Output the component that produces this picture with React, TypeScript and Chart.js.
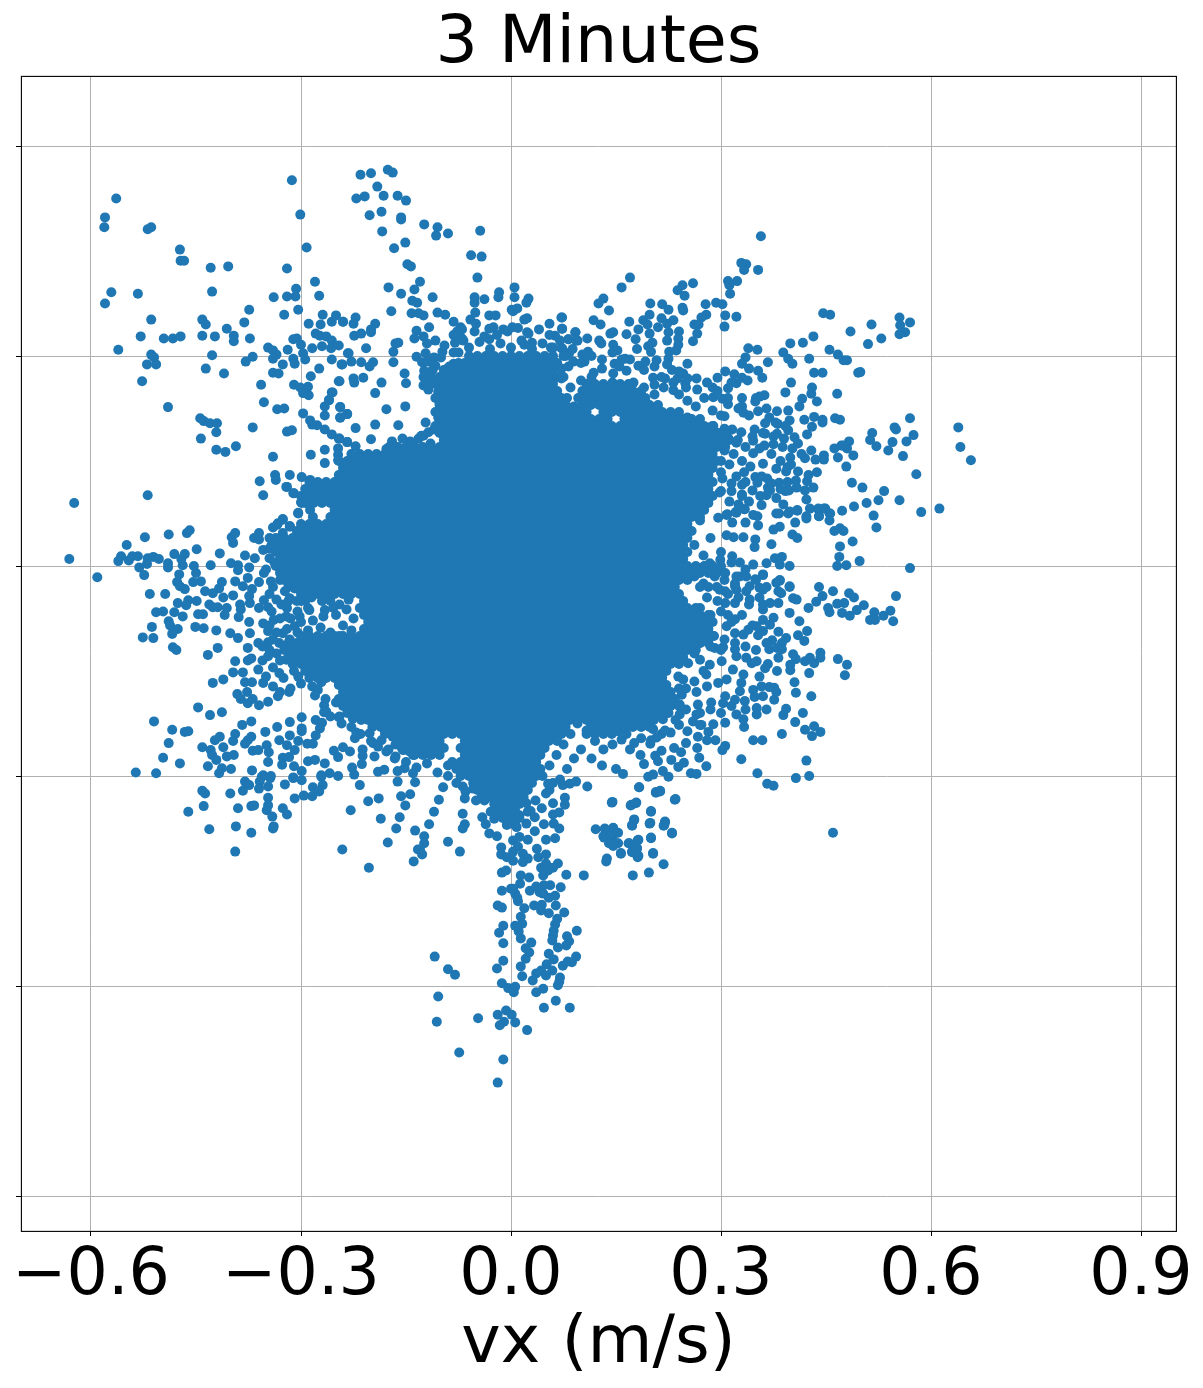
import React, { useEffect, useRef } from "react";
import { Chart, registerables } from "chart.js";

Chart.register(...registerables);

const titleText = "3 Minutes";
const xAxisLabel = "vx (m/s)";
const xTickValues = [-0.6, -0.3, 0, 0.3, 0.6, 0.9];
const yTickValues = [-0.9, -0.6, -0.3, 0, 0.3, 0.6];

// Scattered points: flat x,y pairs in mm/s.
const upperLeftPts = [-564,525,-580,498,-581,484,-519,481,-514,484,-473,452,-472,436,-467,436,-429,426,-404,428,-571,391,-580,375,-533,389,-427,392,-313,551,-301,502,-292,455,-320,425,-280,406,-307,396,-320,385,-308,385,-274,386,-339,384,-374,366,-304,366,-324,359,-514,352,-441,352,-436,345,-381,348,-406,339,-529,328,-496,325,-483,325,-472,328,-441,329,-423,328,-396,329,-396,321,-373,325,-561,309,-514,302,-510,298,-520,288,-507,288,-427,301,-527,264,-436,282,-410,275,-369,299,-379,292,-347,312,-340,308,-335,302,-340,296,-319,309,-311,324,-306,325,-300,316,-297,304,-294,295,-311,296,-309,289,-326,288,-340,276,-332,275,-274,282,-286,271,-357,259,-310,259,-301,255,-290,256,-297,247,-289,244,-353,234,-334,224,-324,225,-490,227,-444,211,-439,207,-430,204,-420,204,-421,191,-443,182,-369,198,-320,192,-313,194,-297,218,-287,208,-284,202,-277,201,-266,195,-256,188,-246,182,-234,177,-393,171,-421,166,-408,163,-266,166,-247,168,-269,359,-289,346,-272,345,-256,349,-250,358,-240,349,-279,332,-273,329,-264,328,-256,322,-270,314,-284,311,-257,311,-246,315,-256,295,-242,288,-233,304,-246,264,-256,248,-260,237,-266,228,-266,215,-244,227,-244,212,-234,217];

const upperMiddlePts = [-215,559,-200,561,-176,566,-169,562,-191,542,-221,525,-209,528,-182,529,-162,529,-150,522,-202,501,-185,506,-157,498,-157,495,-124,488,-105,484,-107,472,-90,475,-44,479,-184,478,-151,462,-167,454,-57,444,-42,442,-148,431,-143,428,-48,412,-130,406,-138,395,-175,398,-157,389,-112,384,-141,379,-134,376,5,398,-17,391,-18,384,5,384,25,382,22,376,-52,384,-38,381,-52,376,-171,364,-142,361,-132,361,-125,358,-105,362,-94,359,-51,362,-31,358,-22,358,1,366,3,364,9,368,-222,355,-225,346,-240,349,-194,346,-200,338,-200,334,-224,329,-214,332,-207,311,-232,304,-228,292,-214,291,-197,291,-202,285,-241,288,-168,291,-168,306,-165,318,-161,319,-135,336,-138,325,-125,328,-117,341,-108,322,-120,318,-122,304,-135,299,-98,306,-110,298,-82,349,-72,341,-77,335,-82,305,-80,319,-68,322,-58,352,-50,346,-127,291,-124,279,-108,286,-152,275,-150,261,-185,262,-211,269,-225,268,-224,262,-245,264,-194,247,-255,248,-260,237,-244,227,-234,217,-244,212,-178,224,-151,228,-222,197,-194,202,-161,201,-200,181,-245,182,-234,177,-222,171,-118,191,-125,186,-132,182,-144,178,-130,168,-161,169,-178,167,-122,261,-118,265,-110,262,-125,258,-118,252,-104,249,-102,232,-98,221,-104,212,-85,212,-97,201,-97,189,-80,252,-91,282,-82,289,-89,268,-82,268,-70,282,-75,275,-80,225,-82,237,55,346,72,355,73,339,63,329,23,334,19,352,23,354,92,334,82,324,93,322,57,312,30,319,19,316,73,311,83,304,55,298,2,341,-11,338,-25,341,-31,324,-31,339];

const upperRightPts = [357,471,329,433,336,431,333,423,353,423,310,407,323,407,312,401,313,389,260,404,245,401,238,394,248,386,170,412,158,398,132,382,125,375,140,365,199,375,216,374,225,366,198,359,245,369,246,365,278,374,293,376,302,374,306,358,322,356,305,342,279,359,272,355,262,345,268,345,266,332,260,321,232,351,215,354,223,346,189,351,169,349,118,351,128,345,73,355,73,339,92,334,95,322,82,324,109,325,126,322,129,318,142,332,146,334,165,331,178,324,182,338,195,345,198,332,210,341,225,334,240,335,223,322,239,325,239,316,202,319,196,314,200,306,146,316,152,308,110,306,102,302,82,304,72,311,105,292,89,292,226,306,236,308,225,296,163,296,158,295,148,289,130,282,118,276,146,275,165,279,182,286,192,292,208,294,223,288,252,289,246,275,238,268,249,261,250,255,220,268,203,269,205,259,232,251,266,252,339,311,352,309,389,305,399,318,417,319,432,328,446,361,456,359,485,335,455,309,467,302,475,294,480,294,426,296,396,296,402,289,367,291,335,298,330,289,340,282,353,279,359,269,433,276,445,276,496,276,430,255,400,262,392,248,466,246,429,246,437,235,416,239,412,228,306,278,295,269,319,274,330,269,338,265,322,261,310,254,288,255,289,241,302,239,310,231,330,228,362,244,349,235,355,242,353,221,332,219,305,214,380,221,396,222,369,212,363,204,381,203,398,208,419,209,433,213,445,209,445,205,463,211,470,209,430,199,423,188,348,195,363,189,380,189,396,194,405,184,390,182,410,175,375,174,362,172,346,179,329,191,316,195,305,196,289,200,429,165,462,168,472,172,483,178,480,168,467,155,489,158,447,158,447,152,435,152,420,154,399,155,479,142,437,134,487,119,423,121,407,122,393,135,379,139,395,141,383,119,366,125,349,127,352,119,367,112,365,101,330,116,330,102,333,134,346,161,360,146,300,134,282,134,300,107,315,107,392,107,397,108,379,97,358,87,389,88,422,95,473,79,490,85,447,82,427,82,409,79,396,75,379,75,352,71,333,81,322,76,309,74,296,69,439,81,455,75,440,71,422,71];

const farRightPts = [555,355,570,348,556,344,515,345,563,334,555,331,529,325,510,317,499,277,639,198,642,170,657,151,570,211,548,198,550,195,516,190,513,180,522,171,575,187,565,178,545,177,539,165,560,157,579,131,475,172,502,112,533,107,525,94,508,90,555,94,518,72,522,55,586,77,612,82,462,50,470,54,475,50,488,35,470,28,469,13,466,0,479,1,498,7,570,-3,550,-43,460,-36,440,-30,445,-43,483,-39,490,-45,439,82,449,82,456,75,440,71,455,65,422,68,406,62,409,80,398,78,383,75,353,58,335,62,316,62,334,81,321,77,308,73,346,73,375,52,384,56,402,45,409,40,372,31,348,27,332,41,318,41,308,44,349,38,387,13,377,11,365,4,398,0,384,2,346,2,327,5,316,14,327,-15,349,-19,360,-13,384,-20,398,-30,403,-46,382,-36,360,-34,341,-29,320,-29,306,-36,291,-15,299,9,284,4];

const lowerRightPts = [436,-51,425,-60,453,-60,455,-66,466,-54,476,-53,473,-67,484,-71,494,-63,504,-56,519,-66,513,-77,520,-77,532,-71,542,-64,546,-79,412,-79,382,-94,423,-93,410,-99,419,-107,393,-103,387,-110,373,-106,369,-119,380,-117,387,-119,382,-131,403,-126,407,-133,420,-136,427,-131,433,-139,442,-124,442,-131,467,-133,480,-141,477,-156,426,-153,399,-141,399,-149,380,-150,367,-140,363,-146,405,-166,407,-181,429,-186,376,-174,369,-173,379,-180,376,-191,393,-204,389,-213,417,-210,406,-223,433,-229,420,-234,442,-237,430,-243,387,-240,346,-249,359,-249,333,-230,306,-224,289,-226,329,-276,352,-296,366,-311,375,-314,407,-303,426,-300,422,-278,460,-381,306,-257,302,-263,292,-249,282,-237,267,-244,280,-249,270,-227,252,-236,240,-227,203,-233,193,-227,162,-230,153,-236,132,-218,130,-233,186,-246,176,-253,200,-249,199,-254,250,-253,266,-260,233,-260,243,-266,215,-264,206,-271,210,-279,229,-277,269,-274,247,-281,239,-287,279,-286,190,-283,217,-293,225,-301,257,-296,265,-297,160,-297,196,-301,203,-298,183,-316,207,-323,213,-321,235,-333,145,-337,172,-341,179,-338,200,-350,176,-363,173,-370,199,-367,220,-366,219,-370,230,-381,200,-388,203,-410,182,-391,180,-403,169,-396,173,-408,182,-414,157,-410,146,-374,135,-377,150,-381,132,-386,145,-386,153,-396,146,-400,137,-418,270,-134,284,-141,301,-136,317,-148,332,-155,344,-139,351,-136,336,-131,322,-129,320,-119,303,-116,291,-117,279,-155,296,-167,308,-162,329,-167,327,-179,346,-177,355,-158,358,-172,360,-186,348,-187,334,-193,320,-191,306,-186,303,-196,286,-195,267,-198,265,-212,260,-222,272,-227,244,-184,241,-198,241,-212,225,-210,217,-219,196,-215,182,-215,322,-212,332,-219,351,-203,351,-212,365,-205,246,-162,239,-158,253,-139,360,-62,370,-53,382,-53,384,-21,398,-29,408,-48,398,-67,375,-74,360,-77,370,-84,351,-86,339,-91,360,-93,353,-99,332,-98,320,-96,308,-86,320,-76,310,-70,306,-53,320,-53,341,-48,322,-15,336,-15,360,-12,322,-34,336,-36,355,-31,386,-39,379,-24,298,-34];

const leftPts = [-624,90,-519,101,-631,10,-591,-16,-523,41,-549,30,-489,45,-463,47,-459,51,-449,24,-416,18,-399,41,-394,47,-397,33,-367,40,-360,47,-360,38,-380,15,-359,121,-336,123,-354,101,-557,14,-561,7,-546,8,-541,14,-533,14,-519,11,-511,13,-503,10,-531,-2,-520,3,-490,4,-490,-2,-481,17,-466,17,-471,10,-469,1,-453,0,-450,-10,-524,-13,-474,-12,-477,-23,-473,-29,-466,-33,-454,-23,-443,-22,-516,-40,-494,-40,-437,-36,-413,-23,-417,-32,-426,-39,-411,-45,-397,-42,-394,-22,-429,1,-400,4,-390,1,-390,-6,-374,-2,-366,11,-353,-10,-376,-17,-360,-23,-343,-22,-327,-19,-383,-29,-370,-33,-374,-43,-353,-49,-476,-53,-461,-49,-464,-56,-449,-50,-431,-55,-426,-59,-419,-59,-406,-60,-387,-55,-386,-62,-373,-53,-507,-66,-497,-65,-481,-66,-469,-72,-447,-69,-440,-69,-409,-70,-389,-73,-360,-60,-347,-59,-374,-80,-354,-82,-339,-77,-489,-79,-487,-85,-476,-90,-484,-97,-513,-87,-526,-102,-511,-103,-451,-87,-439,-89,-421,-92,-401,-96,-390,-103,-373,-96,-347,-93,-483,-116,-478,-120,-433,-127,-419,-117,-376,-117,-361,-110,-347,-109,-394,-136,-397,-152,-383,-152,-376,-135,-371,-132,-361,-148,-347,-129,-426,-167,-411,-162,-380,-166,-370,-166,-391,-183,-377,-180,-386,-190,-376,-196,-369,-190,-360,-199,-347,-194,-333,-186,-317,-180,-354,-167,-340,-172,-350,-158,-326,67,-333,61,-340,55,-316,57,-304,75,-300,91,-310,104,-321,113,-345,40,-326,47,-354,23,-345,11,-331,28,-323,9,-311,-15,-309,-32,-323,-36,-335,-48,-316,-46,-302,-72,-321,-72,-309,-86,-326,-96,-331,-110,-316,-105,-335,-125,-321,-134,-304,-158,-331,-153,-288,-63,-266,-63,-254,-60,-288,-153,-271,-144,-284,-172,-271,-166,-276,-177,-267,-199,-267,-209,-247,159,-286,159,-266,147,-247,151,-340,156,-337,130,-316,130,-299,127,-287,123,-320,113,-311,104,-299,90,-304,76,-287,80,-326,66,-334,59,-316,56,-291,56,-283,70];

const lowerLeftPts = [-447,-202,-430,-213,-413,-209,-510,-222,-484,-234,-466,-237,-461,-236,-489,-253,-497,-274,-473,-282,-536,-295,-507,-296,-371,-222,-384,-227,-351,-237,-334,-230,-316,-223,-299,-216,-299,-232,-299,-236,-316,-242,-279,-220,-270,-224,-394,-240,-397,-250,-416,-244,-423,-249,-441,-259,-429,-263,-411,-259,-427,-270,-421,-277,-406,-272,-396,-270,-371,-244,-376,-249,-380,-254,-369,-264,-361,-263,-349,-256,-346,-266,-347,-280,-331,-249,-320,-256,-309,-263,-304,-250,-326,-274,-317,-273,-327,-284,-310,-286,-433,-286,-413,-289,-417,-296,-400,-290,-370,-292,-299,-293,-291,-254,-283,-254,-279,-242,-273,-232,-290,-279,-280,-277,-266,-282,-253,-264,-240,-259,-247,-273,-271,-299,-259,-296,-247,-300,-354,-299,-343,-300,-311,-302,-246,-216,-441,-321,-437,-325,-461,-351,-439,-343,-401,-325,-380,-308,-374,-313,-383,-321,-356,-301,-344,-303,-359,-308,-347,-315,-360,-318,-323,-312,-311,-303,-299,-306,-271,-301,-283,-316,-269,-313,-274,-322,-296,-328,-284,-329,-309,-332,-347,-331,-347,-342,-349,-349,-341,-358,-326,-346,-320,-355,-390,-346,-371,-343,-367,-342,-393,-372,-371,-381,-339,-372,-340,-375,-431,-376,-394,-408,-241,-405,-203,-431,-229,-349,-204,-336,-189,-332,-216,-313,-186,-361,-157,-329,-144,-326,-151,-342,-159,-359,-164,-375,-176,-395,-137,-378,-133,-405,-139,-422,-227,-288,-224,-298,-213,-283,-230,-265,-212,-262,-212,-271,-223,-246,-221,-238,-162,-308,-137,-309,-152,-289,-162,-293,-140,-296,-190,-294,-181,-291,-202,-239,-197,-253,-185,-249,-195,-272,-178,-265,-166,-275,-154,-263,-140,-270,-169,-244,-150,-244,-226,-218,-245,-215,-214,-220,-264,-208,-271,-225];

const bottomPts = [-103,-334,-97,-316,-110,-351,-117,-369,-124,-386,-124,-396,-130,-405,-127,-412,-90,-394,-73,-408,-69,-354,-66,-369,-69,-375,-66,-332,-41,-359,-36,-369,-31,-382,-20,-386,-29,-351,-24,-361,-11,-354,-14,-402,-14,-412,-6,-416,3,-421,-13,-438,-7,-435,-13,-464,0,-461,6,-468,10,-479,14,-442,26,-445,13,-454,27,-464,-19,-485,-13,-488,-11,-514,-17,-524,-11,-539,-11,-564,-20,-575,-13,-596,-4,-603,6,-601,4,-609,16,-586,14,-572,21,-561,26,-552,21,-546,29,-538,14,-532,11,-522,6,-514,16,-511,14,-501,19,-489,33,-485,44,-484,43,-492,54,-496,64,-485,76,-495,66,-504,63,-512,61,-521,60,-528,59,-535,67,-545,80,-529,83,-536,79,-542,94,-521,54,-554,61,-562,51,-569,74,-571,81,-565,93,-558,87,-566,59,-578,43,-578,36,-582,31,-592,50,-585,70,-588,69,-594,67,-599,46,-604,36,-609,-109,-558,-90,-576,-80,-584,-104,-615,-106,-651,-47,-646,-19,-641,-7,-635,1,-641,-10,-651,-16,-656,6,-652,23,-663,47,-631,64,-621,84,-631,-74,-695,-11,-705,-19,-738,104,-442,79,-441,71,-459,56,-456,46,-442,43,-431,39,-416,50,-412,67,-425,60,-431,50,-425,53,-435,47,-456,36,-458,41,-466,63,-471,54,-474,46,-468,9,-474,3,-461,109,-315,144,-338,183,-316,207,-324,213,-322,234,-334,171,-342,178,-339,200,-351,173,-371,176,-362,198,-368,220,-365,218,-371,230,-382,200,-389,203,-411,218,-426,197,-438,174,-442,136,-422,121,-376,134,-375,146,-375,153,-381,133,-388,140,-396,151,-396,157,-411,168,-396,181,-392,173,-409,181,-416,180,-404,44,-346,60,-339,77,-331,77,-341,60,-355,69,-352,47,-369,61,-368,69,-375,63,-389,50,-391,34,-359,34,-379,37,-404,24,-391,3,-392,10,-401,17,-411,24,-418,17,-423,3,-408,12,-387,8,-373,22,-368,-2,-368,-7,-339,5,-339,22,-339,12,-356,5,-354,24,-351,-16,-330,-40,-325,-30,-327,-54,-318,-69,-315,-38,-335,55,-320,53,-311,74,-313,84,-311,93,-308];

// Estimated lumps round the solid core, where the marks overlap too much to separate.
const fringeUpperRightPts = [240,245,252,236,264,228,276,240,288,222,300,215,252,212,268,205,282,198,296,190,310,183,322,176,335,170,318,160,330,150,342,142,305,165,312,145,300,150,322,128,335,120,345,108,330,100,315,118,302,125,298,105,312,92,325,88,340,92,356,100,370,108,358,128,372,118,385,110,395,120,408,112,420,108,432,112,410,135,425,130,400,145,385,150,372,160,355,168,345,185,360,190,375,185,388,170,402,168,415,160,378,205,392,200,340,215,325,225,310,240,295,250,280,262,265,268,350,240,365,225,330,240,315,262,270,65,285,40,262,30,275,15,300,20,315,5];
const fringeTopPts = [75,300,88,310,100,290,115,300,130,295,145,305,155,285,170,295,180,310,190,280,205,285,215,270,230,280,100,265,85,255,75,270,72,282,115,270,128,255,145,262,160,250,175,262,190,255,205,245,218,255,232,262,240,278,252,268,80,240,90,228,-60,312,-45,320,-30,310,-15,318,0,312,15,322,30,310,45,318,60,312,-70,325,-52,335,-38,328,-20,330,-5,335,10,340,25,332,40,338,55,330,70,322,-75,305,78,300,82,285,72,268,-75,290,-88,285,-100,298,-118,292,-112,280,-95,315,-82,330,-70,338,-125,270,-170,178,-155,182,-140,176,-128,186,-115,175,-110,195,-122,205];
const fringeLeftPts = [-300,-50,-285,-45,-245,-55,-232,-48,-320,-60,-305,-65,-290,-60,-250,-70,-235,-62,-225,-75,-315,-75,-300,-80,-283,-78,-268,-72,-240,-85,-228,-92,-320,-90,-305,-95,-290,-92,-272,-88,-258,-95,-245,-100,-345,25,-338,5,-350,-5,-340,-30,-330,-20,-345,-40,-328,-55,-342,-65,-330,-75,-345,-85,-335,-95,-318,-110,-340,-105,-355,-115,-345,-120,-330,-135,-315,-125,-355,-135,-340,-145,-325,-160,-310,-150,-300,-168,-315,-175,-330,-180];
const fringeBottomPts = [-280,-185,-265,-190,-250,-195,-258,-215,-242,-225,-228,-230,-215,-240,-200,-250,-190,-258,-175,-262,-165,-272,-150,-280,-135,-288,-120,-282,-105,-295,-118,-268,-90,-300,-78,-310,-65,-322,-50,-335,-90,-285,-180,-235,-165,-255,-145,-265,45,-300,55,-285,65,-270,75,-255,85,-240,60,-310,50,-325,35,-335,28,-350,95,-225,108,-235,120,-250,132,-262,145,-255,158,-248,170,-262,185,-270,100,-262,115,-275,130,-285,150,-290,165,-240,215,-240,228,-238,90,-275,80,-290,70,-305];
const fringeLowerRightPts = [262,-15,275,-25,290,-8,305,-20,320,-25,335,-5,350,-20,365,-30,280,-45,295,-50,310,-40,325,-45,340,-55,355,-45,270,-60,285,-70,300,-65,315,-80,330,-70,345,-85,360,-55,275,-90,290,-100,305,-105,320,-110,335,-115,350,-120,365,-110,300,-120,285,-115,270,-110,262,-125,275,-150,262,-165,250,-175,265,-180,280,-172,240,-175,250,-205,270,-210,285,-205,300,-210,315,-200,335,-205,235,-220,220,-235,208,-245];

// The solid core cannot be read point by point: estimated rows of overlapping points, mm/s.
const coreYs = [300,290,280,270,260,250,240,230,220,210,200,190,180,170,160,150,140,130,120,110,100,90,80,70,60,50,40,30,20,10,0,-10,-20,-30,-40,-50,-60,-70,-80,-90,-100,-110,-120,-130,-140,-150,-160,-170,-180,-190,-200,-210,-220,-230,-240,-250,-260,-270,-280,-290,-300,-310,-320,-330,-340,-350,-360,-370];
const coreXs = [
[-60,-48,-36,-24,-12,0,12,24,36,48,60],
[-66,-54,-42,-30,-18,-6,6,18,30,42,54,66],
[-96,-84,-72,-60,-48,-36,-24,-12,0,12,24,36,48,60],
[-114,-102,-90,-78,-66,-54,-42,-30,-18,-6,6,18,30,42,54,66],
[-108,-96,-84,-72,-60,-48,-36,-24,-12,0,12,24,36,48,60,108,120,132,144,156,168],
[-102,-90,-78,-66,-54,-42,-30,-18,-6,6,18,30,42,54,66,102,114,126,138,150,162,174,186],
[-108,-96,-84,-72,-60,-48,-36,-24,-12,0,12,24,36,48,60,72,96,108,120,132,144,156,168,180,192],
[-102,-90,-78,-66,-54,-42,-30,-18,-6,6,18,30,42,54,66,78,102,114,126,138,150,162,174,186,198,210],
[-108,-96,-84,-72,-60,-48,-36,-24,-12,0,12,24,36,48,60,72,84,96,108,132,144,156,168,180,192,204,216,228,240],
[-102,-90,-78,-66,-54,-42,-30,-18,-6,6,18,30,42,54,66,78,90,102,114,126,138,162,174,186,198,210,222,234,246,258,270],
[-108,-96,-84,-72,-60,-48,-36,-24,-12,0,12,24,36,48,60,72,84,96,108,120,132,144,156,168,180,192,204,216,228,240,252,264,276,288],
[-102,-90,-78,-66,-54,-42,-30,-18,-6,6,18,30,42,54,66,78,90,102,114,126,138,150,162,174,186,198,210,222,234,246,258,270,282,294,306],
[-96,-84,-72,-60,-48,-36,-24,-12,0,12,24,36,48,60,72,84,96,108,120,132,144,156,168,180,192,204,216,228,240,252,264,276,288,300,312,324],
[-174,-162,-150,-138,-126,-114,-102,-90,-78,-66,-54,-42,-30,-18,-6,6,18,30,42,54,66,78,90,102,114,126,138,150,162,174,186,198,210,222,234,246,258,270,282,294,306],
[-228,-216,-204,-192,-180,-168,-156,-144,-132,-120,-108,-96,-84,-72,-60,-48,-36,-24,-12,0,12,24,36,48,60,72,84,96,108,120,132,144,156,168,180,192,204,216,228,240,252,264,276,288],
[-246,-234,-222,-210,-198,-186,-174,-162,-150,-138,-126,-114,-102,-90,-78,-66,-54,-42,-30,-18,-6,6,18,30,42,54,66,78,90,102,114,126,138,150,162,174,186,198,210,222,234,246,258,270,282,294],
[-240,-228,-216,-204,-192,-180,-168,-156,-144,-132,-120,-108,-96,-84,-72,-60,-48,-36,-24,-12,0,12,24,36,48,60,72,84,96,108,120,132,144,156,168,180,192,204,216,228,240,252,264,276,288],
[-246,-234,-222,-210,-198,-186,-174,-162,-150,-138,-126,-114,-102,-90,-78,-66,-54,-42,-30,-18,-6,6,18,30,42,54,66,78,90,102,114,126,138,150,162,174,186,198,210,222,234,246,258,270,282],
[-288,-276,-264,-252,-240,-228,-216,-204,-192,-180,-168,-156,-144,-132,-120,-108,-96,-84,-72,-60,-48,-36,-24,-12,0,12,24,36,48,60,72,84,96,108,120,132,144,156,168,180,192,204,216,228,240,252,264,276,288],
[-294,-282,-270,-258,-246,-234,-222,-210,-198,-186,-174,-162,-150,-138,-126,-114,-102,-90,-78,-66,-54,-42,-30,-18,-6,6,18,30,42,54,66,78,90,102,114,126,138,150,162,174,186,198,210,222,234,246,258,270,282],
[-300,-288,-276,-264,-252,-240,-228,-216,-204,-192,-180,-168,-156,-144,-132,-120,-108,-96,-84,-72,-60,-48,-36,-24,-12,0,12,24,36,48,60,72,84,96,108,120,132,144,156,168,180,192,204,216,228,240,252,264,276,288],
[-294,-282,-270,-258,-246,-234,-222,-210,-198,-186,-174,-162,-150,-138,-126,-114,-102,-90,-78,-66,-54,-42,-30,-18,-6,6,18,30,42,54,66,78,90,102,114,126,138,150,162,174,186,198,210,222,234,246,258,270,282],
[-252,-240,-228,-216,-204,-192,-180,-168,-156,-144,-132,-120,-108,-96,-84,-72,-60,-48,-36,-24,-12,0,12,24,36,48,60,72,84,96,108,120,132,144,156,168,180,192,204,216,228,240,252,264,276],
[-258,-246,-234,-222,-210,-198,-186,-174,-162,-150,-138,-126,-114,-102,-90,-78,-66,-54,-42,-30,-18,-6,6,18,30,42,54,66,78,90,102,114,126,138,150,162,174,186,198,210,222,234,246,258,270],
[-300,-288,-276,-264,-252,-240,-228,-216,-204,-192,-180,-168,-156,-144,-132,-120,-108,-96,-84,-72,-60,-48,-36,-24,-12,0,12,24,36,48,60,72,84,96,108,120,132,144,156,168,180,192,204,216,228,240,252],
[-306,-294,-282,-270,-258,-246,-234,-222,-210,-198,-186,-174,-162,-150,-138,-126,-114,-102,-90,-78,-66,-54,-42,-30,-18,-6,6,18,30,42,54,66,78,90,102,114,126,138,150,162,174,186,198,210,222,234,246,258],
[-336,-324,-312,-300,-288,-276,-264,-252,-240,-228,-216,-204,-192,-180,-168,-156,-144,-132,-120,-108,-96,-84,-72,-60,-48,-36,-24,-12,0,12,24,36,48,60,72,84,96,108,120,132,144,156,168,180,192,204,216,228,240,252],
[-342,-330,-318,-306,-294,-282,-270,-258,-246,-234,-222,-210,-198,-186,-174,-162,-150,-138,-126,-114,-102,-90,-78,-66,-54,-42,-30,-18,-6,6,18,30,42,54,66,78,90,102,114,126,138,150,162,174,186,198,210,222,234,246],
[-336,-324,-312,-300,-288,-276,-264,-252,-240,-228,-216,-204,-192,-180,-168,-156,-144,-132,-120,-108,-96,-84,-72,-60,-48,-36,-24,-12,0,12,24,36,48,60,72,84,96,108,120,132,144,156,168,180,192,204,216,228,240,252],
[-330,-318,-306,-294,-282,-270,-258,-246,-234,-222,-210,-198,-186,-174,-162,-150,-138,-126,-114,-102,-90,-78,-66,-54,-42,-30,-18,-6,6,18,30,42,54,66,78,90,102,114,126,138,150,162,174,186,198,210,222,234,246],
[-336,-324,-312,-300,-288,-276,-264,-252,-240,-228,-216,-204,-192,-180,-168,-156,-144,-132,-120,-108,-96,-84,-72,-60,-48,-36,-24,-12,0,12,24,36,48,60,72,84,96,108,120,132,144,156,168,180,192,204,216,228,240,252,264,276,288,300],
[-330,-318,-306,-294,-282,-270,-258,-246,-234,-222,-210,-198,-186,-174,-162,-150,-138,-126,-114,-102,-90,-78,-66,-54,-42,-30,-18,-6,6,18,30,42,54,66,78,90,102,114,126,138,150,162,174,186,198,210,222,234,246,258,270,282,294,306],
[-324,-312,-300,-288,-276,-264,-252,-240,-228,-216,-204,-192,-180,-168,-156,-144,-132,-120,-108,-96,-84,-72,-60,-48,-36,-24,-12,0,12,24,36,48,60,72,84,96,108,120,132,144,156,168,180,192,204,216,228,240,252],
[-318,-306,-294,-282,-270,-258,-246,-234,-222,-210,-198,-186,-174,-162,-150,-138,-126,-114,-102,-90,-78,-66,-54,-42,-30,-18,-6,6,18,30,42,54,66,78,90,102,114,126,138,150,162,174,186,198,210,222,234,270,282,294],
[-300,-288,-276,-264,-252,-240,-228,-216,-204,-192,-180,-168,-156,-144,-132,-120,-108,-96,-84,-72,-60,-48,-36,-24,-12,0,12,24,36,48,60,72,84,96,108,120,132,144,156,168,180,192,204,216,228,240],
[-318,-306,-294,-270,-258,-210,-198,-186,-174,-162,-150,-138,-126,-114,-102,-90,-78,-66,-54,-42,-30,-18,-6,6,18,30,42,54,66,78,90,102,114,126,138,150,162,174,186,198,210,222,234,246],
[-216,-204,-192,-180,-168,-156,-144,-132,-120,-108,-96,-84,-72,-60,-48,-36,-24,-12,0,12,24,36,48,60,72,84,96,108,120,132,144,156,168,180,192,204,216,228,240,252,264],
[-210,-198,-186,-174,-162,-150,-138,-126,-114,-102,-90,-78,-66,-54,-42,-30,-18,-6,6,18,30,42,54,66,78,90,102,114,126,138,150,162,174,186,198,210,222,234,246,258,270,282],
[-204,-192,-180,-168,-156,-144,-132,-120,-108,-96,-84,-72,-60,-48,-36,-24,-12,0,12,24,36,48,60,72,84,96,108,120,132,144,156,168,180,192,204,216,228,240,252,264,276,288],
[-210,-198,-186,-174,-162,-150,-138,-126,-114,-102,-90,-78,-66,-54,-42,-30,-18,-6,6,18,30,42,54,66,78,90,102,114,126,138,150,162,174,186,198,210,222,234,246,258,270,282],
[-300,-288,-276,-264,-252,-240,-228,-216,-204,-192,-180,-168,-156,-144,-132,-120,-108,-96,-84,-72,-60,-48,-36,-24,-12,0,12,24,36,48,60,72,84,96,108,120,132,144,156,168,180,192,204,216,228,240,252,264,276,288],
[-306,-294,-282,-270,-258,-246,-234,-222,-210,-198,-186,-174,-162,-150,-138,-126,-114,-102,-90,-78,-66,-54,-42,-30,-18,-6,6,18,30,42,54,66,78,90,102,114,126,138,150,162,174,186,198,210,222,234,246,258,270,282],
[-324,-312,-300,-288,-276,-264,-252,-240,-228,-216,-204,-192,-180,-168,-156,-144,-132,-120,-108,-96,-84,-72,-60,-48,-36,-24,-12,0,12,24,36,48,60,72,84,96,108,120,132,144,156,168,180,192,204,216,228,240,252,264],
[-318,-306,-294,-282,-270,-258,-246,-234,-222,-210,-198,-186,-174,-162,-150,-138,-126,-114,-102,-90,-78,-66,-54,-42,-30,-18,-6,6,18,30,42,54,66,78,90,102,114,126,138,150,162,174,186,198,210,222,234,246],
[-312,-300,-288,-276,-264,-252,-240,-228,-216,-204,-192,-180,-168,-156,-144,-132,-120,-108,-96,-84,-72,-60,-48,-36,-24,-12,0,12,24,36,48,60,72,84,96,108,120,132,144,156,168,180,192,204,216,228,240],
[-294,-282,-270,-258,-246,-234,-222,-210,-198,-186,-174,-162,-150,-138,-126,-114,-102,-90,-78,-66,-54,-42,-30,-18,-6,6,18,30,42,54,66,78,90,102,114,126,138,150,162,174,186,198,210,222],
[-288,-276,-264,-252,-240,-228,-216,-204,-192,-180,-168,-156,-144,-132,-120,-108,-96,-84,-72,-60,-48,-36,-24,-12,0,12,24,36,48,60,72,84,96,108,120,132,144,156,168,180,192,204,216],
[-246,-234,-222,-210,-198,-186,-174,-162,-150,-138,-126,-114,-102,-90,-78,-66,-54,-42,-30,-18,-6,6,18,30,42,54,66,78,90,102,114,126,138,150,162,174,186,198,210,222],
[-240,-228,-216,-204,-192,-180,-168,-156,-144,-132,-120,-108,-96,-84,-72,-60,-48,-36,-24,-12,0,12,24,36,48,60,72,84,96,108,120,132,144,156,168,180,192,204,216,228],
[-246,-234,-222,-210,-198,-186,-174,-162,-150,-138,-126,-114,-102,-90,-78,-66,-54,-42,-30,-18,-6,6,18,30,42,54,66,78,90,102,114,126,138,150,162,174,186,198,210,222,234],
[-240,-228,-216,-204,-192,-180,-168,-156,-144,-132,-120,-108,-96,-84,-72,-60,-48,-36,-24,-12,0,12,24,36,48,60,72,84,96,108,120,132,144,156,168,180,192,204,216,228,240],
[-234,-222,-210,-198,-186,-174,-162,-150,-138,-126,-114,-102,-90,-78,-66,-54,-42,-30,-18,-6,6,18,30,42,54,66,78,90,102,114,126,138,150,162,174,186,198,210,222],
[-204,-192,-180,-168,-156,-144,-132,-120,-108,-96,-84,-72,-60,-48,-36,-24,-12,0,12,24,36,48,60,72,84,96,108,120,132,144,156,168,180,192,204],
[-198,-186,-174,-162,-150,-138,-126,-114,-102,-90,-78,-66,-54,-42,-30,-18,-6,6,18,30,42,54,66,78,114,126,138,150,162,174,186,198],
[-180,-168,-156,-144,-132,-120,-108,-96,-84,-72,-60,-48,-36,-24,-12,0,12,24,36,48,60,72,108,120,132,144],
[-162,-150,-138,-126,-114,-102,-66,-54,-42,-30,-18,-6,6,18,30,42,54,66],
[-156,-144,-132,-120,-108,-96,-72,-60,-48,-36,-24,-12,0,12,24,36,48],
[-138,-126,-114,-102,-66,-54,-42,-30,-18,-6,6,18,30,42],
[-84,-72,-60,-48,-36,-24,-12,0,12,24,36],
[-78,-66,-54,-42,-30,-18,-6,6,18,30,42],
[-72,-60,-48,-36,-24,-12,0,12,24,36],
[-54,-42,-30,-18,-6,6,18,30],
[-48,-36,-24,-12,0,12,24],
[-42,-30,-18,-6,6,18],
[-24,-12,0,12],
[-18,-6,6],
[-12,0,12],
[-6,6],
];

const scatterRegions = [upperLeftPts, upperMiddlePts, upperRightPts, farRightPts, lowerRightPts, leftPts, lowerLeftPts, bottomPts, fringeUpperRightPts, fringeTopPts, fringeLeftPts, fringeBottomPts, fringeLowerRightPts];

function buildPoints() {
  const pts: { x: number; y: number }[] = [];
  for (const region of scatterRegions) {
    for (let i = 0; i + 1 < region.length; i += 2) {
      pts.push({ x: region[i] / 1000, y: region[i + 1] / 1000 });
    }
  }
  coreXs.forEach((row, r) => {
    for (const x of row) pts.push({ x: x / 1000, y: coreYs[r] / 1000 });
  });
  return pts;
}

const framePlugin = {
  id: "frame",
  afterDatasetsDraw(chart: any) {
    const { ctx, chartArea: a } = chart;
    ctx.save();
    ctx.strokeStyle = "#000";
    ctx.lineWidth = 1.1;
    ctx.strokeRect(a.left + 0.4, a.top + 0.4, a.right - a.left, a.bottom - a.top);
    ctx.restore();
  },
};

export default function App() {
  const ref = useRef<HTMLCanvasElement>(null);
  useEffect(() => {
    document.body.style.margin = "0";
    const chart = new Chart(ref.current as HTMLCanvasElement, {
      type: "scatter",
      data: {
        datasets: [
          {
            data: buildPoints(),
            backgroundColor: "#1f77b4",
            borderWidth: 0,
            pointRadius: 5,
            pointHoverRadius: 5,
          },
        ],
      },
      plugins: [framePlugin],
      options: {
        animation: false,
        responsive: false,
        devicePixelRatio: 1,
        layout: { padding: { left: 0, right: 27, top: 0, bottom: 0 } },
        plugins: {
          legend: { display: false },
          tooltip: { enabled: false },
          title: {
            display: true,
            fullSize: false,
            text: titleText,
            color: "#000",
            font: { family: "DejaVu Sans", size: 66.7, weight: "normal", lineHeight: 1 },
            padding: { top: 11, bottom: -1.7 },
          },
        },
        scales: {
          x: {
            type: "linear",
            min: -0.7,
            max: 0.95,
            afterBuildTicks(scale: any) {
              scale.ticks = xTickValues.map((value) => ({ value }));
            },
            afterFit(scale: any) {
              scale.height = 157;
            },
            grid: { color: "#b0b0b0", lineWidth: 1, tickColor: "#000", tickLength: 5, drawTicks: true },
            border: { display: false },
            ticks: {
              color: "#000",
              font: { family: "DejaVu Sans", size: 65 },
              padding: 2,
              maxRotation: 0,
              autoSkip: false,
              callback: (v: any) => Number(v).toFixed(1).replace("-", "\u2212"),
            },
            title: {
              display: true,
              text: xAxisLabel,
              color: "#000",
              font: { family: "DejaVu Sans", size: 66.7, lineHeight: 1 },
              padding: { top: 0, bottom: 10 },
            },
          },
          y: {
            type: "linear",
            min: -0.95,
            max: 0.7,
            afterBuildTicks(scale: any) {
              scale.ticks = yTickValues.map((value) => ({ value }));
            },
            afterFit(scale: any) {
              scale.width = 21;
            },
            grid: { color: "#b0b0b0", lineWidth: 1, tickColor: "#000", tickLength: 5, drawTicks: true },
            border: { display: false },
            ticks: { display: true, autoSkip: false, callback: () => "", padding: 0 },
          },
        },
      } as any,
    });
    return () => chart.destroy();
  }, []);
  return <canvas ref={ref} width={1203} height={1388} style={{ display: "block" }} />;
}
